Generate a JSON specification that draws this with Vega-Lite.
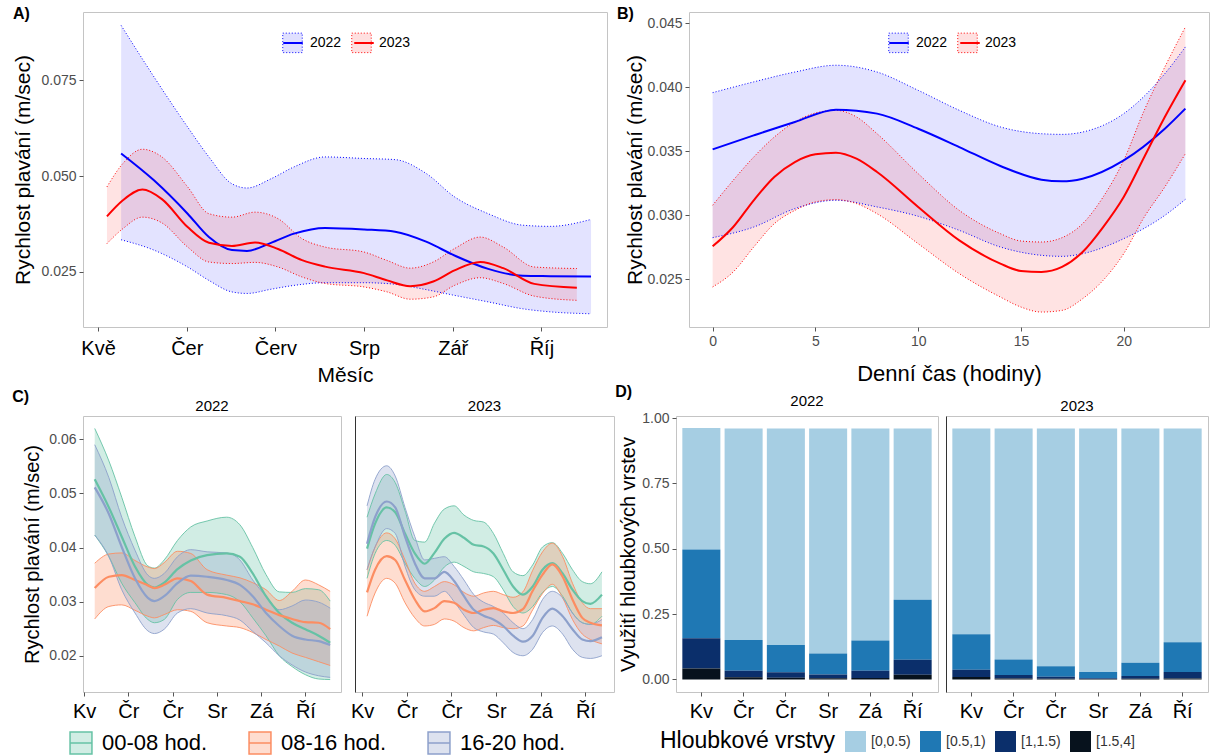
{
"$schema":"https://vega.github.io/schema/vega-lite/v6.json",
"background":"white",
"padding":{"left":12,"top":5,"right":0,"bottom":0},
"datasets":{
"a":[
{"y":"2022","m":5.26,"lo":0.0334,"md":0.0559,"hi":0.0893},
{"y":"2022","m":5.63,"lo":0.0307,"md":0.0489,"hi":0.0759},
{"y":"2022","m":6.01,"lo":0.0263,"md":0.0402,"hi":0.0628},
{"y":"2022","m":6.25,"lo":0.0228,"md":0.0341,"hi":0.055},
{"y":"2022","m":6.51,"lo":0.0198,"md":0.0307,"hi":0.048},
{"y":"2022","m":6.68,"lo":0.0194,"md":0.0305,"hi":0.0469},
{"y":"2022","m":6.95,"lo":0.0205,"md":0.0326,"hi":0.0493},
{"y":"2022","m":7.21,"lo":0.0215,"md":0.035,"hi":0.0524},
{"y":"2022","m":7.56,"lo":0.0222,"md":0.0365,"hi":0.055},
{"y":"2022","m":8.0,"lo":0.0222,"md":0.0361,"hi":0.0546},
{"y":"2022","m":8.35,"lo":0.0218,"md":0.0355,"hi":0.0543},
{"y":"2022","m":8.7,"lo":0.0204,"md":0.0329,"hi":0.0507},
{"y":"2022","m":9.02,"lo":0.0189,"md":0.0293,"hi":0.0446},
{"y":"2022","m":9.4,"lo":0.0172,"md":0.0258,"hi":0.0402},
{"y":"2022","m":9.79,"lo":0.0154,"md":0.024,"hi":0.0372},
{"y":"2022","m":10.1,"lo":0.0146,"md":0.0239,"hi":0.0369},
{"y":"2022","m":10.56,"lo":0.0141,"md":0.0238,"hi":0.0387},
{"y":"2023","m":5.1,"lo":0.0324,"md":0.0395,"hi":0.0472},
{"y":"2023","m":5.28,"lo":0.0363,"md":0.0437,"hi":0.0533},
{"y":"2023","m":5.5,"lo":0.0393,"md":0.0465,"hi":0.057},
{"y":"2023","m":5.72,"lo":0.0378,"md":0.044,"hi":0.055},
{"y":"2023","m":6.01,"lo":0.0315,"md":0.0367,"hi":0.0472},
{"y":"2023","m":6.25,"lo":0.0276,"md":0.0326,"hi":0.0402},
{"y":"2023","m":6.51,"lo":0.0272,"md":0.0318,"hi":0.0393},
{"y":"2023","m":6.77,"lo":0.0275,"md":0.0327,"hi":0.0406},
{"y":"2023","m":7.03,"lo":0.0263,"md":0.031,"hi":0.0389},
{"y":"2023","m":7.3,"lo":0.0237,"md":0.0281,"hi":0.0337},
{"y":"2023","m":7.56,"lo":0.022,"md":0.0264,"hi":0.0315},
{"y":"2023","m":8.0,"lo":0.0211,"md":0.0247,"hi":0.0302},
{"y":"2023","m":8.26,"lo":0.0198,"md":0.0228,"hi":0.028},
{"y":"2023","m":8.52,"lo":0.0179,"md":0.0213,"hi":0.026},
{"y":"2023","m":8.78,"lo":0.0185,"md":0.0225,"hi":0.0276},
{"y":"2023","m":9.02,"lo":0.0215,"md":0.0254,"hi":0.0311},
{"y":"2023","m":9.31,"lo":0.0235,"md":0.0276,"hi":0.0341},
{"y":"2023","m":9.57,"lo":0.022,"md":0.026,"hi":0.0315},
{"y":"2023","m":9.92,"lo":0.0187,"md":0.0219,"hi":0.0263},
{"y":"2023","m":10.4,"lo":0.0176,"md":0.0209,"hi":0.0259}
],
"b":[
{"y":"2022","h":0,"lo":0.02823,"md":0.03513,"hi":0.03956},
{"y":"2022","h":2,"lo":0.02906,"md":0.03622,"hi":0.0404},
{"y":"2022","h":4,"lo":0.0305,"md":0.03727,"hi":0.04117},
{"y":"2022","h":6,"lo":0.03115,"md":0.03823,"hi":0.0417},
{"y":"2022","h":8,"lo":0.03063,"md":0.03792,"hi":0.04117},
{"y":"2022","h":10,"lo":0.0299,"md":0.03674,"hi":0.03974},
{"y":"2022","h":12,"lo":0.0288,"md":0.03531,"hi":0.03818},
{"y":"2022","h":14,"lo":0.0275,"md":0.03383,"hi":0.03688},
{"y":"2022","h":16,"lo":0.02685,"md":0.03276,"hi":0.03635},
{"y":"2022","h":17,"lo":0.02677,"md":0.03263,"hi":0.0363},
{"y":"2022","h":18,"lo":0.02698,"md":0.03284,"hi":0.03648},
{"y":"2022","h":20,"lo":0.02815,"md":0.03427,"hi":0.03792},
{"y":"2022","h":22,"lo":0.02997,"md":0.03674,"hi":0.04104},
{"y":"2022","h":23,"lo":0.03122,"md":0.03831,"hi":0.04313},
{"y":"2023","h":0,"lo":0.02438,"md":0.02755,"hi":0.03076},
{"y":"2023","h":1,"lo":0.02555,"md":0.02906,"hi":0.03271},
{"y":"2023","h":2,"lo":0.0275,"md":0.03115,"hi":0.03453},
{"y":"2023","h":3,"lo":0.02932,"md":0.03297,"hi":0.03609},
{"y":"2023","h":4,"lo":0.03036,"md":0.03414,"hi":0.03727},
{"y":"2023","h":5,"lo":0.03102,"md":0.03474,"hi":0.03797},
{"y":"2023","h":6,"lo":0.0312,"md":0.03487,"hi":0.03818},
{"y":"2023","h":7,"lo":0.03089,"md":0.0344,"hi":0.03766},
{"y":"2023","h":8,"lo":0.0301,"md":0.03336,"hi":0.03635},
{"y":"2023","h":10,"lo":0.02776,"md":0.03063,"hi":0.03323},
{"y":"2023","h":12,"lo":0.02542,"md":0.02802,"hi":0.03036},
{"y":"2023","h":14,"lo":0.02359,"md":0.0262,"hi":0.02854},
{"y":"2023","h":15,"lo":0.02281,"md":0.02563,"hi":0.02797},
{"y":"2023","h":16,"lo":0.02242,"md":0.02555,"hi":0.02789},
{"y":"2023","h":17,"lo":0.02255,"md":0.02594,"hi":0.02823},
{"y":"2023","h":18,"lo":0.02346,"md":0.02711,"hi":0.02932},
{"y":"2023","h":19,"lo":0.0249,"md":0.02906,"hi":0.03141},
{"y":"2023","h":20,"lo":0.02698,"md":0.03141,"hi":0.03427},
{"y":"2023","h":21,"lo":0.02984,"md":0.03453,"hi":0.03818},
{"y":"2023","h":22,"lo":0.03219,"md":0.03766,"hi":0.04156},
{"y":"2023","h":23,"lo":0.03479,"md":0.04052,"hi":0.04469}
],
"c":[
{"y":"2022","g":"00-08 hod.","m":5.24,"lo":0.0423,"md":0.0526,"hi":0.062},
{"y":"2022","g":"00-08 hod.","m":5.56,"lo":0.0383,"md":0.0474,"hi":0.056},
{"y":"2022","g":"00-08 hod.","m":5.85,"lo":0.0334,"md":0.042,"hi":0.0493},
{"y":"2022","g":"00-08 hod.","m":6.15,"lo":0.0298,"md":0.0365,"hi":0.042},
{"y":"2022","g":"00-08 hod.","m":6.44,"lo":0.0267,"md":0.0331,"hi":0.0366},
{"y":"2022","g":"00-08 hod.","m":6.59,"lo":0.0261,"md":0.0326,"hi":0.0362},
{"y":"2022","g":"00-08 hod.","m":6.81,"lo":0.0267,"md":0.0335,"hi":0.0377},
{"y":"2022","g":"00-08 hod.","m":7.11,"lo":0.0304,"md":0.036,"hi":0.0413},
{"y":"2022","g":"00-08 hod.","m":7.41,"lo":0.0317,"md":0.0376,"hi":0.0438},
{"y":"2022","g":"00-08 hod.","m":7.78,"lo":0.0317,"md":0.0386,"hi":0.0449},
{"y":"2022","g":"00-08 hod.","m":8.22,"lo":0.0313,"md":0.0389,"hi":0.0456},
{"y":"2022","g":"00-08 hod.","m":8.52,"lo":0.03,"md":0.0383,"hi":0.0442},
{"y":"2022","g":"00-08 hod.","m":8.81,"lo":0.027,"md":0.0352,"hi":0.04},
{"y":"2022","g":"00-08 hod.","m":9.11,"lo":0.0237,"md":0.031,"hi":0.035},
{"y":"2022","g":"00-08 hod.","m":9.41,"lo":0.02,"md":0.0279,"hi":0.0318},
{"y":"2022","g":"00-08 hod.","m":9.7,"lo":0.018,"md":0.0261,"hi":0.0317},
{"y":"2022","g":"00-08 hod.","m":10.0,"lo":0.0165,"md":0.0249,"hi":0.0324},
{"y":"2022","g":"00-08 hod.","m":10.3,"lo":0.0157,"md":0.0237,"hi":0.0322},
{"y":"2022","g":"00-08 hod.","m":10.56,"lo":0.0156,"md":0.0224,"hi":0.0301},
{"y":"2022","g":"08-16 hod.","m":5.24,"lo":0.0268,"md":0.0325,"hi":0.0371},
{"y":"2022","g":"08-16 hod.","m":5.56,"lo":0.0291,"md":0.0346,"hi":0.0388},
{"y":"2022","g":"08-16 hod.","m":5.85,"lo":0.0294,"md":0.0349,"hi":0.039},
{"y":"2022","g":"08-16 hod.","m":6.15,"lo":0.0284,"md":0.034,"hi":0.0376},
{"y":"2022","g":"08-16 hod.","m":6.44,"lo":0.0273,"md":0.033,"hi":0.0364},
{"y":"2022","g":"08-16 hod.","m":6.59,"lo":0.027,"md":0.0325,"hi":0.0361},
{"y":"2022","g":"08-16 hod.","m":6.81,"lo":0.0276,"md":0.0331,"hi":0.0372},
{"y":"2022","g":"08-16 hod.","m":7.11,"lo":0.0285,"md":0.0343,"hi":0.0393},
{"y":"2022","g":"08-16 hod.","m":7.41,"lo":0.0282,"md":0.0338,"hi":0.0389},
{"y":"2022","g":"08-16 hod.","m":7.78,"lo":0.0261,"md":0.0313,"hi":0.0359},
{"y":"2022","g":"08-16 hod.","m":8.22,"lo":0.0255,"md":0.0307,"hi":0.0349},
{"y":"2022","g":"08-16 hod.","m":8.52,"lo":0.0252,"md":0.0301,"hi":0.0344},
{"y":"2022","g":"08-16 hod.","m":8.81,"lo":0.0243,"md":0.0295,"hi":0.0335},
{"y":"2022","g":"08-16 hod.","m":9.11,"lo":0.023,"md":0.0285,"hi":0.0322},
{"y":"2022","g":"08-16 hod.","m":9.41,"lo":0.0218,"md":0.0275,"hi":0.0302},
{"y":"2022","g":"08-16 hod.","m":9.7,"lo":0.0205,"md":0.0268,"hi":0.0319},
{"y":"2022","g":"08-16 hod.","m":10.0,"lo":0.0197,"md":0.0262,"hi":0.034},
{"y":"2022","g":"08-16 hod.","m":10.3,"lo":0.0189,"md":0.0261,"hi":0.0331},
{"y":"2022","g":"08-16 hod.","m":10.56,"lo":0.0182,"md":0.0249,"hi":0.0319},
{"y":"2022","g":"16-20 hod.","m":5.24,"lo":0.0423,"md":0.0511,"hi":0.059},
{"y":"2022","g":"16-20 hod.","m":5.56,"lo":0.0383,"md":0.0462,"hi":0.0529},
{"y":"2022","g":"16-20 hod.","m":5.85,"lo":0.0322,"md":0.0401,"hi":0.0456},
{"y":"2022","g":"16-20 hod.","m":6.15,"lo":0.0279,"md":0.0343,"hi":0.0395},
{"y":"2022","g":"16-20 hod.","m":6.44,"lo":0.0246,"md":0.0307,"hi":0.0349},
{"y":"2022","g":"16-20 hod.","m":6.59,"lo":0.0241,"md":0.0301,"hi":0.0343},
{"y":"2022","g":"16-20 hod.","m":6.81,"lo":0.0249,"md":0.031,"hi":0.0352},
{"y":"2022","g":"16-20 hod.","m":7.11,"lo":0.0279,"md":0.0334,"hi":0.0383},
{"y":"2022","g":"16-20 hod.","m":7.41,"lo":0.0287,"md":0.0348,"hi":0.0396},
{"y":"2022","g":"16-20 hod.","m":7.78,"lo":0.0279,"md":0.0346,"hi":0.0392},
{"y":"2022","g":"16-20 hod.","m":8.22,"lo":0.0274,"md":0.034,"hi":0.039},
{"y":"2022","g":"16-20 hod.","m":8.52,"lo":0.0266,"md":0.0331,"hi":0.0377},
{"y":"2022","g":"16-20 hod.","m":8.81,"lo":0.0245,"md":0.031,"hi":0.034},
{"y":"2022","g":"16-20 hod.","m":9.11,"lo":0.0224,"md":0.0279,"hi":0.031},
{"y":"2022","g":"16-20 hod.","m":9.41,"lo":0.02,"md":0.0255,"hi":0.0285},
{"y":"2022","g":"16-20 hod.","m":9.7,"lo":0.0183,"md":0.0237,"hi":0.0292},
{"y":"2022","g":"16-20 hod.","m":10.0,"lo":0.017,"md":0.023,"hi":0.0303},
{"y":"2022","g":"16-20 hod.","m":10.3,"lo":0.0163,"md":0.0227,"hi":0.0299},
{"y":"2022","g":"16-20 hod.","m":10.56,"lo":0.016,"md":0.022,"hi":0.0288},
{"y":"2023","g":"00-08 hod.","m":5.11,"lo":0.0343,"md":0.0398,"hi":0.0456},
{"y":"2023","g":"00-08 hod.","m":5.29,"lo":0.0389,"md":0.0444,"hi":0.0499},
{"y":"2023","g":"00-08 hod.","m":5.55,"lo":0.0413,"md":0.0474,"hi":0.0535},
{"y":"2023","g":"00-08 hod.","m":5.74,"lo":0.0404,"md":0.0465,"hi":0.052},
{"y":"2023","g":"00-08 hod.","m":5.96,"lo":0.0371,"md":0.0426,"hi":0.0468},
{"y":"2023","g":"00-08 hod.","m":6.18,"lo":0.0343,"md":0.0389,"hi":0.0413},
{"y":"2023","g":"00-08 hod.","m":6.4,"lo":0.0328,"md":0.037,"hi":0.041},
{"y":"2023","g":"00-08 hod.","m":6.62,"lo":0.034,"md":0.039,"hi":0.0445},
{"y":"2023","g":"00-08 hod.","m":6.84,"lo":0.0364,"md":0.0416,"hi":0.0471},
{"y":"2023","g":"00-08 hod.","m":7.06,"lo":0.0373,"md":0.0427,"hi":0.0477},
{"y":"2023","g":"00-08 hod.","m":7.28,"lo":0.0365,"md":0.0418,"hi":0.046},
{"y":"2023","g":"00-08 hod.","m":7.5,"lo":0.0355,"md":0.0405,"hi":0.045},
{"y":"2023","g":"00-08 hod.","m":7.72,"lo":0.0352,"md":0.0402,"hi":0.0447},
{"y":"2023","g":"00-08 hod.","m":7.94,"lo":0.0346,"md":0.0389,"hi":0.0426},
{"y":"2023","g":"00-08 hod.","m":8.16,"lo":0.0322,"md":0.0359,"hi":0.0389},
{"y":"2023","g":"00-08 hod.","m":8.38,"lo":0.0291,"md":0.0328,"hi":0.0355},
{"y":"2023","g":"00-08 hod.","m":8.6,"lo":0.0279,"md":0.0313,"hi":0.0348},
{"y":"2023","g":"00-08 hod.","m":8.82,"lo":0.0291,"md":0.0328,"hi":0.0368},
{"y":"2023","g":"00-08 hod.","m":9.04,"lo":0.0317,"md":0.0359,"hi":0.0401},
{"y":"2023","g":"00-08 hod.","m":9.26,"lo":0.0328,"md":0.0371,"hi":0.0409},
{"y":"2023","g":"00-08 hod.","m":9.49,"lo":0.031,"md":0.0352,"hi":0.0389},
{"y":"2023","g":"00-08 hod.","m":9.71,"lo":0.0279,"md":0.0322,"hi":0.0359},
{"y":"2023","g":"00-08 hod.","m":9.93,"lo":0.0261,"md":0.0301,"hi":0.0337},
{"y":"2023","g":"00-08 hod.","m":10.11,"lo":0.0258,"md":0.0296,"hi":0.0333},
{"y":"2023","g":"00-08 hod.","m":10.37,"lo":0.0273,"md":0.0313,"hi":0.0355},
{"y":"2023","g":"08-16 hod.","m":5.11,"lo":0.0273,"md":0.0317,"hi":0.0359},
{"y":"2023","g":"08-16 hod.","m":5.29,"lo":0.0316,"md":0.0359,"hi":0.0401},
{"y":"2023","g":"08-16 hod.","m":5.55,"lo":0.0343,"md":0.0384,"hi":0.0427},
{"y":"2023","g":"08-16 hod.","m":5.74,"lo":0.0334,"md":0.0377,"hi":0.0416},
{"y":"2023","g":"08-16 hod.","m":5.96,"lo":0.0298,"md":0.034,"hi":0.0377},
{"y":"2023","g":"08-16 hod.","m":6.18,"lo":0.027,"md":0.0304,"hi":0.0334},
{"y":"2023","g":"08-16 hod.","m":6.4,"lo":0.0255,"md":0.0282,"hi":0.0319},
{"y":"2023","g":"08-16 hod.","m":6.62,"lo":0.0258,"md":0.0288,"hi":0.0328},
{"y":"2023","g":"08-16 hod.","m":6.84,"lo":0.0268,"md":0.0301,"hi":0.0337},
{"y":"2023","g":"08-16 hod.","m":7.06,"lo":0.0264,"md":0.0298,"hi":0.0331},
{"y":"2023","g":"08-16 hod.","m":7.28,"lo":0.0252,"md":0.0285,"hi":0.0317},
{"y":"2023","g":"08-16 hod.","m":7.5,"lo":0.0246,"md":0.0279,"hi":0.031},
{"y":"2023","g":"08-16 hod.","m":7.72,"lo":0.0252,"md":0.0285,"hi":0.0316},
{"y":"2023","g":"08-16 hod.","m":7.94,"lo":0.0256,"md":0.0288,"hi":0.0319},
{"y":"2023","g":"08-16 hod.","m":8.16,"lo":0.0252,"md":0.0282,"hi":0.0313},
{"y":"2023","g":"08-16 hod.","m":8.38,"lo":0.025,"md":0.0279,"hi":0.0308},
{"y":"2023","g":"08-16 hod.","m":8.6,"lo":0.0255,"md":0.0286,"hi":0.0318},
{"y":"2023","g":"08-16 hod.","m":8.82,"lo":0.0285,"md":0.032,"hi":0.0358},
{"y":"2023","g":"08-16 hod.","m":9.04,"lo":0.0315,"md":0.035,"hi":0.0392},
{"y":"2023","g":"08-16 hod.","m":9.26,"lo":0.0332,"md":0.0369,"hi":0.0408},
{"y":"2023","g":"08-16 hod.","m":9.49,"lo":0.0307,"md":0.0346,"hi":0.0383},
{"y":"2023","g":"08-16 hod.","m":9.71,"lo":0.0267,"md":0.0304,"hi":0.0334},
{"y":"2023","g":"08-16 hod.","m":9.93,"lo":0.024,"md":0.027,"hi":0.0298},
{"y":"2023","g":"08-16 hod.","m":10.11,"lo":0.023,"md":0.0261,"hi":0.0287},
{"y":"2023","g":"08-16 hod.","m":10.37,"lo":0.0222,"md":0.0256,"hi":0.0287},
{"y":"2023","g":"16-20 hod.","m":5.11,"lo":0.0359,"md":0.0407,"hi":0.0477},
{"y":"2023","g":"16-20 hod.","m":5.29,"lo":0.0401,"md":0.0456,"hi":0.0526},
{"y":"2023","g":"16-20 hod.","m":5.55,"lo":0.0435,"md":0.0485,"hi":0.0551},
{"y":"2023","g":"16-20 hod.","m":5.74,"lo":0.0426,"md":0.0474,"hi":0.0532},
{"y":"2023","g":"16-20 hod.","m":5.96,"lo":0.0365,"md":0.042,"hi":0.0474},
{"y":"2023","g":"16-20 hod.","m":6.18,"lo":0.0322,"md":0.0371,"hi":0.042},
{"y":"2023","g":"16-20 hod.","m":6.4,"lo":0.031,"md":0.0343,"hi":0.0377},
{"y":"2023","g":"16-20 hod.","m":6.62,"lo":0.031,"md":0.0343,"hi":0.038},
{"y":"2023","g":"16-20 hod.","m":6.84,"lo":0.0319,"md":0.0355,"hi":0.0383},
{"y":"2023","g":"16-20 hod.","m":7.06,"lo":0.03,"md":0.0338,"hi":0.0365},
{"y":"2023","g":"16-20 hod.","m":7.28,"lo":0.0275,"md":0.031,"hi":0.034},
{"y":"2023","g":"16-20 hod.","m":7.5,"lo":0.0252,"md":0.0285,"hi":0.0313},
{"y":"2023","g":"16-20 hod.","m":7.72,"lo":0.0244,"md":0.0274,"hi":0.0299},
{"y":"2023","g":"16-20 hod.","m":7.94,"lo":0.024,"md":0.0267,"hi":0.0291},
{"y":"2023","g":"16-20 hod.","m":8.16,"lo":0.0224,"md":0.0255,"hi":0.0279},
{"y":"2023","g":"16-20 hod.","m":8.38,"lo":0.0206,"md":0.0237,"hi":0.0261},
{"y":"2023","g":"16-20 hod.","m":8.6,"lo":0.02,"md":0.0226,"hi":0.025},
{"y":"2023","g":"16-20 hod.","m":8.82,"lo":0.0212,"md":0.0237,"hi":0.0267},
{"y":"2023","g":"16-20 hod.","m":9.04,"lo":0.0243,"md":0.027,"hi":0.0304},
{"y":"2023","g":"16-20 hod.","m":9.26,"lo":0.0255,"md":0.0287,"hi":0.0319},
{"y":"2023","g":"16-20 hod.","m":9.49,"lo":0.024,"md":0.0273,"hi":0.0307},
{"y":"2023","g":"16-20 hod.","m":9.71,"lo":0.0212,"md":0.0249,"hi":0.0279},
{"y":"2023","g":"16-20 hod.","m":9.93,"lo":0.0197,"md":0.023,"hi":0.0261},
{"y":"2023","g":"16-20 hod.","m":10.11,"lo":0.0195,"md":0.0227,"hi":0.0258},
{"y":"2023","g":"16-20 hod.","m":10.37,"lo":0.02,"md":0.0234,"hi":0.0267}
],
"d":[
{"y":"2022","mo":5,"L":"[0,0.5)","v":0.465},{"y":"2022","mo":5,"L":"[0.5,1)","v":0.339},{"y":"2022","mo":5,"L":"[1,1.5)","v":0.116},{"y":"2022","mo":5,"L":"[1.5,4]","v":0.042},
{"y":"2022","mo":6,"L":"[0,0.5)","v":0.809},{"y":"2022","mo":6,"L":"[0.5,1)","v":0.118},{"y":"2022","mo":6,"L":"[1,1.5)","v":0.025},{"y":"2022","mo":6,"L":"[1.5,4]","v":0.008},
{"y":"2022","mo":7,"L":"[0,0.5)","v":0.828},{"y":"2022","mo":7,"L":"[0.5,1)","v":0.104},{"y":"2022","mo":7,"L":"[1,1.5)","v":0.021},{"y":"2022","mo":7,"L":"[1.5,4]","v":0.007},
{"y":"2022","mo":8,"L":"[0,0.5)","v":0.861},{"y":"2022","mo":8,"L":"[0.5,1)","v":0.08},{"y":"2022","mo":8,"L":"[1,1.5)","v":0.014},{"y":"2022","mo":8,"L":"[1.5,4]","v":0.005},
{"y":"2022","mo":9,"L":"[0,0.5)","v":0.811},{"y":"2022","mo":9,"L":"[0.5,1)","v":0.116},{"y":"2022","mo":9,"L":"[1,1.5)","v":0.027},{"y":"2022","mo":9,"L":"[1.5,4]","v":0.006},
{"y":"2022","mo":10,"L":"[0,0.5)","v":0.655},{"y":"2022","mo":10,"L":"[0.5,1)","v":0.23},{"y":"2022","mo":10,"L":"[1,1.5)","v":0.057},{"y":"2022","mo":10,"L":"[1.5,4]","v":0.018},
{"y":"2023","mo":5,"L":"[0,0.5)","v":0.787},{"y":"2023","mo":5,"L":"[0.5,1)","v":0.136},{"y":"2023","mo":5,"L":"[1,1.5)","v":0.028},{"y":"2023","mo":5,"L":"[1.5,4]","v":0.009},
{"y":"2023","mo":6,"L":"[0,0.5)","v":0.884},{"y":"2023","mo":6,"L":"[0.5,1)","v":0.059},{"y":"2023","mo":6,"L":"[1,1.5)","v":0.013},{"y":"2023","mo":6,"L":"[1.5,4]","v":0.004},
{"y":"2023","mo":7,"L":"[0,0.5)","v":0.909},{"y":"2023","mo":7,"L":"[0.5,1)","v":0.041},{"y":"2023","mo":7,"L":"[1,1.5)","v":0.007},{"y":"2023","mo":7,"L":"[1.5,4]","v":0.003},
{"y":"2023","mo":8,"L":"[0,0.5)","v":0.931},{"y":"2023","mo":8,"L":"[0.5,1)","v":0.024},{"y":"2023","mo":8,"L":"[1,1.5)","v":0.003},{"y":"2023","mo":8,"L":"[1.5,4]","v":0.002},
{"y":"2023","mo":9,"L":"[0,0.5)","v":0.896},{"y":"2023","mo":9,"L":"[0.5,1)","v":0.051},{"y":"2023","mo":9,"L":"[1,1.5)","v":0.01},{"y":"2023","mo":9,"L":"[1.5,4]","v":0.003},
{"y":"2023","mo":10,"L":"[0,0.5)","v":0.818},{"y":"2023","mo":10,"L":"[0.5,1)","v":0.113},{"y":"2023","mo":10,"L":"[1,1.5)","v":0.025},{"y":"2023","mo":10,"L":"[1.5,4]","v":0.004}
]
},
"spacing":-3,
"resolve":{"scale":{"fill":"independent","stroke":"independent","color":"independent"},"legend":{"fill":"independent","stroke":"independent","color":"independent"}},
"vconcat":[
{"hconcat":[
{"title":{"text":"A)","offset":-10,"dx":0},
"width":524,"height":315,
"data":{"name":"a"},
"encoding":{"x":{"field":"m","type":"quantitative","scale":{"domain":[4.83,10.74],"nice":false,"zero":false},
  "axis":{"values":[5,6,7,8,9,10],"labelExpr":"['Kvě','Čer','Červ','Srp','Zář','Říj'][datum.value-5]","labelFontSize":20,"labelColor":"#000","labelPadding":7,"title":"Měsíc","titleFontSize":21,"titlePadding":6}}},
"layer":[
{"mark":{"type":"area","interpolate":"monotone","fillOpacity":0.11},
 "encoding":{"y":{"field":"lo","type":"quantitative","scale":{"domain":[0.01065,0.0928],"nice":false,"zero":false},
   "axis":{"values":[0.025,0.05,0.075],"format":".3f","title":"Rychlost plavání (m/sec)","titleFontSize":21,"titlePadding":7}},
  "y2":{"field":"hi"},
  "fill":{"field":"y","type":"nominal","scale":{"domain":["2022","2023"],"range":["#0000ff","#ff0000"]},
   "legend":{"orient":"none","legendX":199,"legendY":20,"direction":"horizontal","title":null,"symbolType":"square","symbolSize":380,"labelFontSize":14,"labelColor":"#000","labelOffset":7,"columnPadding":7,
    "encode":{"symbols":{"update":{"fillOpacity":{"value":0.12},"stroke":{"signal":"datum.value==='2022'?'#0000ff':'#ff0000'"},"strokeDash":{"value":[1,2]},"strokeWidth":{"value":1}}}}}}}},
{"transform":[{"fold":["lo","hi"],"as":["k","v"]}],
 "mark":{"type":"line","interpolate":"monotone","strokeDash":[1,2],"strokeWidth":1},
 "encoding":{"y":{"field":"v","type":"quantitative"},"detail":{"field":"k"},
  "stroke":{"field":"y","type":"nominal","scale":{"range":["#0000ff","#ff0000"]},
   "legend":{"orient":"none","legendX":199,"legendY":20,"direction":"horizontal","title":null,"symbolType":"stroke","symbolSize":380,"symbolStrokeWidth":2,"symbolDash":[1,0],"labelFontSize":14,"labelOpacity":0,"labelOffset":7,"columnPadding":7}}}},
{"mark":{"type":"line","interpolate":"monotone","strokeWidth":2},
 "encoding":{"y":{"field":"md","type":"quantitative"},
  "stroke":{"field":"y","type":"nominal","scale":{"range":["#0000ff","#ff0000"]},
   "legend":{"orient":"none","legendX":199,"legendY":20,"direction":"horizontal","title":null,"symbolType":"stroke","symbolSize":380,"symbolStrokeWidth":2,"symbolDash":[1,0],"labelFontSize":14,"labelOpacity":0,"labelOffset":7,"columnPadding":7}}}}
]},
{"title":{"text":"B)","offset":-10,"dx":-8},
"width":520,"height":315,
"data":{"name":"b"},
"encoding":{"x":{"field":"h","type":"quantitative","scale":{"domain":[-1.15,24.15],"nice":false,"zero":false},
  "axis":{"values":[0,5,10,15,20],"format":"d","title":"Denní čas (hodiny)","titleFontSize":22,"titlePadding":15}}},
"layer":[
{"mark":{"type":"area","interpolate":"monotone","fillOpacity":0.11},
 "encoding":{"y":{"field":"lo","type":"quantitative","scale":{"domain":[0.02125,0.04586],"nice":false,"zero":false},
   "axis":{"values":[0.025,0.03,0.035,0.04,0.045],"format":".3f","title":"Rychlost plavání (m/sec)","titleFontSize":21,"titlePadding":1}},
  "y2":{"field":"hi"},
  "fill":{"field":"y","type":"nominal","scale":{"domain":["2022","2023"],"range":["#0000ff","#ff0000"]},
   "legend":{"orient":"none","legendX":199,"legendY":20,"direction":"horizontal","title":null,"symbolType":"square","symbolSize":380,"labelFontSize":14,"labelColor":"#000","labelOffset":7,"columnPadding":7,
    "encode":{"symbols":{"update":{"fillOpacity":{"value":0.12},"stroke":{"signal":"datum.value==='2022'?'#0000ff':'#ff0000'"},"strokeDash":{"value":[1,2]},"strokeWidth":{"value":1}}}}}}}},
{"transform":[{"fold":["lo","hi"],"as":["k","v"]}],
 "mark":{"type":"line","interpolate":"monotone","strokeDash":[1,2],"strokeWidth":1},
 "encoding":{"y":{"field":"v","type":"quantitative"},"detail":{"field":"k"},
  "stroke":{"field":"y","type":"nominal","scale":{"range":["#0000ff","#ff0000"]},
   "legend":{"orient":"none","legendX":199,"legendY":20,"direction":"horizontal","title":null,"symbolType":"stroke","symbolSize":380,"symbolStrokeWidth":2,"symbolDash":[1,0],"labelFontSize":14,"labelOpacity":0,"labelOffset":7,"columnPadding":7}}}},
{"mark":{"type":"line","interpolate":"monotone","strokeWidth":2},
 "encoding":{"y":{"field":"md","type":"quantitative"},
  "stroke":{"field":"y","type":"nominal","scale":{"range":["#0000ff","#ff0000"]},
   "legend":{"orient":"none","legendX":199,"legendY":20,"direction":"horizontal","title":null,"symbolType":"stroke","symbolSize":380,"symbolStrokeWidth":2,"symbolDash":[1,0],"labelFontSize":14,"labelOpacity":0,"labelOffset":7,"columnPadding":7}}}}
]}
],"spacing":8,
"resolve":{"scale":{"fill":"independent","stroke":"independent"},"legend":{"fill":"independent","stroke":"independent"}}},
{"hconcat":[
{"title":{"text":"C)","offset":-6,"dx":-10},
 "spacing":7,
 "hconcat":[
 {"title":{"text":"2022","anchor":"middle","frame":"group","fontSize":15,"fontWeight":"normal","offset":2},
  "width":258,"height":276,"data":{"name":"c"},"transform":[{"filter":"datum.y==='2022'"}],
  "encoding":{"x":{"field":"m","type":"quantitative","scale":{"domain":[4.975,10.805],"nice":false,"zero":false},
    "axis":{"values":[5,6,7,8,9,10],"labelExpr":"['Kv','Čr','Čr','Sr','Zá','Ří'][datum.value-5]","labelFontSize":20,"labelColor":"#000","labelPadding":5,"title":null}}},
  "layer":[
  {"mark":{"type":"area","interpolate":"monotone","fillOpacity":0.3},
   "encoding":{"y":{"field":"lo","type":"quantitative","scale":{"domain":[0.0133,0.0643],"nice":false,"zero":false},
     "axis":{"values":[0.02,0.03,0.04,0.05,0.06],"format":".2f","title":"Rychlost plavání (m/sec)","titleFontSize":20,"titlePadding":6}},
    "y2":{"field":"hi"},
    "fill":{"field":"g","type":"nominal","scale":{"domain":["00-08 hod.","08-16 hod.","16-20 hod."],"range":["#66c2a5","#fc8d62","#8da0cb"]},
     "legend":{"orient":"none","legendX":-14,"legendY":315,"direction":"horizontal","title":null,"symbolType":"M-1,-1H1V1H-1ZM-1,0H1","symbolSize":480,"labelFontSize":22,"labelColor":"#000","labelOffset":9,"columnPadding":38,
      "encode":{"symbols":{"update":{"fill":{"signal":"datum.value==='00-08 hod.'?'#66c2a5':datum.value==='08-16 hod.'?'#fc8d62':'#8da0cb'"},"fillOpacity":{"value":0.3},"stroke":{"signal":"datum.value==='00-08 hod.'?'#66c2a5':datum.value==='08-16 hod.'?'#fc8d62':'#8da0cb'"},"strokeWidth":{"value":1.5},"opacity":{"value":1}}}}}}}},
  {"transform":[{"fold":["lo","hi"],"as":["k","v"]}],
   "mark":{"type":"line","interpolate":"monotone","strokeWidth":0.9},
   "encoding":{"y":{"field":"v","type":"quantitative"},"detail":{"field":"k"},
    "stroke":{"field":"g","type":"nominal","scale":{"domain":["00-08 hod.","08-16 hod.","16-20 hod."],"range":["#66c2a5","#fc8d62","#8da0cb"]},"legend":null}}},
  {"mark":{"type":"line","interpolate":"monotone","strokeWidth":2.2},
   "encoding":{"y":{"field":"md","type":"quantitative"},
    "stroke":{"field":"g","type":"nominal","scale":{"domain":["00-08 hod.","08-16 hod.","16-20 hod."],"range":["#66c2a5","#fc8d62","#8da0cb"]},"legend":null}}}
  ]},
 {"title":{"text":"2023","anchor":"middle","frame":"group","fontSize":15,"fontWeight":"normal","offset":2},
  "width":259,"height":276,"data":{"name":"c"},"transform":[{"filter":"datum.y==='2023'"}],
  "encoding":{"x":{"field":"m","type":"quantitative","scale":{"domain":[4.84,10.64],"nice":false,"zero":false},
    "axis":{"values":[5,6,7,8,9,10],"labelExpr":"['Kv','Čr','Čr','Sr','Zá','Ří'][datum.value-5]","labelFontSize":20,"labelColor":"#000","labelPadding":5,"title":null}}},
  "layer":[
  {"mark":{"type":"area","interpolate":"monotone","fillOpacity":0.3},
   "encoding":{"y":{"field":"lo","type":"quantitative","scale":{"domain":[0.0133,0.0643],"nice":false,"zero":false},
     "axis":{"labels":false,"ticks":false,"domain":true,"domainColor":"#333","title":null}},
    "y2":{"field":"hi"},
    "fill":{"field":"g","type":"nominal","scale":{"domain":["00-08 hod.","08-16 hod.","16-20 hod."],"range":["#66c2a5","#fc8d62","#8da0cb"]}}}},
  {"transform":[{"fold":["lo","hi"],"as":["k","v"]}],
   "mark":{"type":"line","interpolate":"monotone","strokeWidth":0.9},
   "encoding":{"y":{"field":"v","type":"quantitative"},"detail":{"field":"k"},
    "stroke":{"field":"g","type":"nominal","scale":{"domain":["00-08 hod.","08-16 hod.","16-20 hod."],"range":["#66c2a5","#fc8d62","#8da0cb"]},"legend":null}}},
  {"mark":{"type":"line","interpolate":"monotone","strokeWidth":2.2},
   "encoding":{"y":{"field":"md","type":"quantitative"},
    "stroke":{"field":"g","type":"nominal","scale":{"domain":["00-08 hod.","08-16 hod.","16-20 hod."],"range":["#66c2a5","#fc8d62","#8da0cb"]},"legend":null}}}
  ]}
 ]},
{"title":{"text":"D)","offset":-6,"dx":-3},
 "spacing":6,
 "hconcat":[
 {"title":{"text":"2022","anchor":"middle","frame":"group","fontSize":15,"fontWeight":"normal","offset":2},
  "width":262,"height":276,"data":{"name":"d"},"transform":[{"filter":"datum.y==='2022'"}],
  "mark":{"type":"bar"},
  "encoding":{
   "x":{"field":"mo","type":"ordinal","scale":{"paddingInner":0.1,"paddingOuter":0.15},
    "axis":{"labelExpr":"['Kv','Čr','Čr','Sr','Zá','Ří'][datum.value-5]","labelFontSize":20,"labelColor":"#000","labelPadding":5,"labelAngle":0,"title":null}},
   "y":{"field":"v","type":"quantitative","stack":"zero","scale":{"domain":[-0.048,1.008],"nice":false,"zero":false},
    "axis":{"values":[0,0.25,0.5,0.75,1],"format":".2f","title":"Využití hloubkových vrstev","titleFontSize":20,"titlePadding":3}},
   "color":{"field":"L","type":"nominal","scale":{"domain":["[0,0.5)","[0.5,1)","[1,1.5)","[1.5,4]"],"range":["#a6cee3","#1f78b4","#0b2f6b","#07121d"]},
    "legend":{"orient":"none","legendX":-16,"legendY":315,"direction":"horizontal","title":"Hloubkové vrstvy","titleOrient":"left","titleFontSize":23,"titleFontWeight":"normal","titleColor":"#000","titlePadding":9,"symbolType":"square","symbolSize":440,"symbolStrokeWidth":0,"symbolOpacity":1,"labelFontSize":14,"labelColor":"#333","labelOffset":5,"columnPadding":9}},
   "order":{"field":"L","sort":"descending"}}},
 {"title":{"text":"2023","anchor":"middle","frame":"group","fontSize":15,"fontWeight":"normal","offset":2},
  "width":262,"height":276,"data":{"name":"d"},"transform":[{"filter":"datum.y==='2023'"}],
  "mark":{"type":"bar"},
  "encoding":{
   "x":{"field":"mo","type":"ordinal","scale":{"paddingInner":0.1,"paddingOuter":0.15},
    "axis":{"labelExpr":"['Kv','Čr','Čr','Sr','Zá','Ří'][datum.value-5]","labelFontSize":20,"labelColor":"#000","labelPadding":5,"labelAngle":0,"title":null}},
   "y":{"field":"v","type":"quantitative","stack":"zero","scale":{"domain":[-0.048,1.008],"nice":false,"zero":false},
    "axis":{"labels":false,"ticks":false,"domain":true,"domainColor":"#333","title":null}},
   "color":{"field":"L","type":"nominal","scale":{"domain":["[0,0.5)","[0.5,1)","[1,1.5)","[1.5,4]"],"range":["#a6cee3","#1f78b4","#0b2f6b","#07121d"]}},
   "order":{"field":"L","sort":"descending"}}}
 ]}
],"spacing":0,
"resolve":{"scale":{"fill":"independent","stroke":"independent","color":"independent"},"legend":{"fill":"independent","stroke":"independent","color":"independent"}}}
],
"config":{
 "font":"Liberation Sans",
 "view":{"stroke":"#c4c4c4","strokeWidth":1},
 "axis":{"grid":false,"domain":false,"tickColor":"#555","tickSize":4,"labelColor":"#4d4d4d","labelFontSize":14,"labelPadding":3,"titleFontWeight":"normal","titleColor":"#000","titleFontSize":20,"labelFlush":false,"labelOverlap":false},
 "title":{"fontSize":16,"fontWeight":"bold","anchor":"start","color":"#000"},
 "legend":{"labelColor":"#000","titleFontWeight":"normal"}
}
}
